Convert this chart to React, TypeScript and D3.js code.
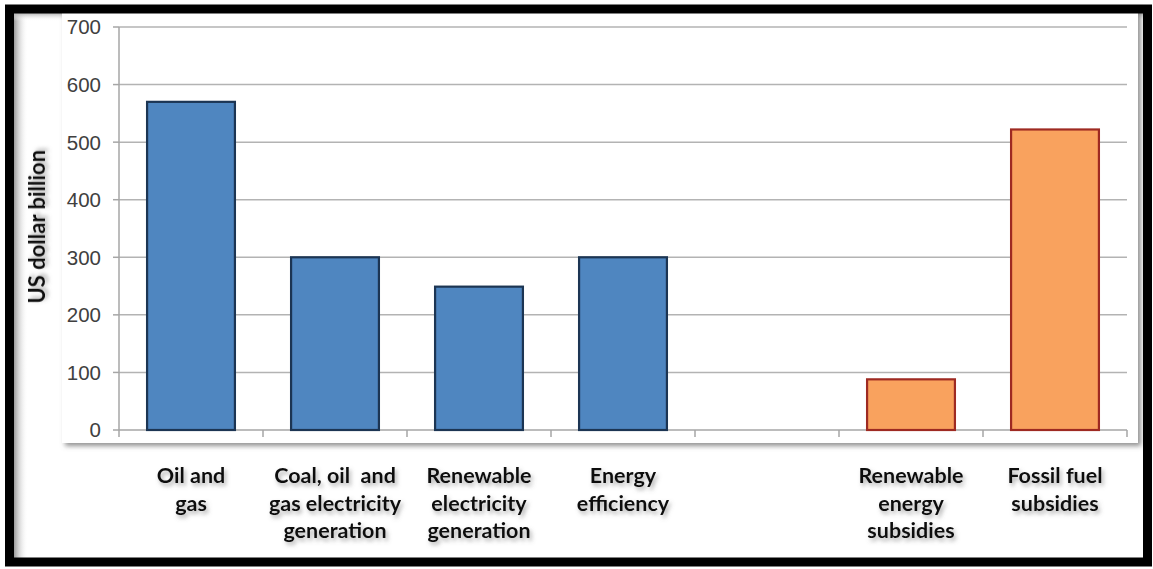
import React from 'react';
import * as d3 from 'd3';

// data
const categories = ['oil', 'coal', 'renew', 'efficiency', 'gap', 'renewSub', 'fossilSub'];
const labelLines = [
  ['Oil and', 'gas'],
  ['Coal, oil  and', 'gas electricity', 'generation'],
  ['Renewable', 'electricity', 'generation'],
  ['Energy', 'efficiency'],
  [],
  ['Renewable', 'energy', 'subsidies'],
  ['Fossil fuel', 'subsidies'],
];
const values = [570, 300, 249, 300, null, 88, 522];
const isSubsidy = [false, false, false, false, false, true, true];
const yTicks = [0, 100, 200, 300, 400, 500, 600, 700];

const W = 1153;
const H = 569;

const App = () => {
  const x = d3.scaleBand<string>().domain(categories).range([119, 1127]).padding(0);
  const y = d3.scaleLinear().domain([0, 700]).range([430, 27]);
  const barW = x.bandwidth() * 0.61;
  const bounds = categories.map(c => x(c) as number).concat([x.range()[1]]);

  return (
    <svg width={W} height={H} style={{ position: 'absolute', left: 0, top: 0, background: '#fff' }}>
      <defs>
        <filter id="txtShadow" x="-20%" y="-30%" width="140%" height="170%">
          <feDropShadow dx="2" dy="3" stdDeviation="2" floodColor="#666" floodOpacity="0.55" />
        </filter>
        <filter id="boxShadow" x="-5%" y="-5%" width="110%" height="110%">
          <feDropShadow dx="3" dy="3" stdDeviation="2.5" floodColor="#777" floodOpacity="0.8" />
        </filter>
        <linearGradient id="leftShade" x1="0" x2="1" y1="0" y2="0">
          <stop offset="0" stopColor="#9a9a9a" />
          <stop offset="1" stopColor="#fff" stopOpacity="0" />
        </linearGradient>
        <linearGradient id="topShade" x1="0" x2="0" y1="0" y2="1">
          <stop offset="0" stopColor="#b0b0b0" />
          <stop offset="1" stopColor="#fff" stopOpacity="0" />
        </linearGradient>
      </defs>

      {/* inner shading along the frame */}
      <rect x={14} y={13} width={14} height={545} fill="url(#leftShade)" />
      <rect x={14} y={13} width={1133} height={8} fill="url(#topShade)" />

      {/* plot-area panel with drop shadow */}
      <rect x={62} y={6} width={1076} height={437} fill="#fff" filter="url(#boxShadow)" />

      {/* gridlines */}
      {yTicks.map(t => (
        <g key={t}>
          {t > 0 && (
            <line x1={119} x2={1127} y1={y(t)} y2={y(t)} stroke="#b3b3b3" strokeWidth={1.5} />
          )}
          <line x1={113} x2={119} y1={y(t)} y2={y(t)} stroke="#a6a6a6" strokeWidth={1.5} />
          <text
            x={101}
            y={y(t)}
            dy="0.36em"
            textAnchor="end"
            fontFamily="'Liberation Sans', Arial, sans-serif"
            fontSize={20.5}
            fill="#404040"
          >
            {t}
          </text>
        </g>
      ))}

      {/* axes */}
      <line x1={119} x2={119} y1={y(700)} y2={y(0)} stroke="#a6a6a6" strokeWidth={1.5} />
      <line x1={119} x2={1127} y1={y(0)} y2={y(0)} stroke="#a6a6a6" strokeWidth={1.5} />
      {bounds.map((b, i) => (
        <line key={i} x1={b} x2={b} y1={y(0)} y2={y(0) + 7} stroke="#a6a6a6" strokeWidth={1.5} />
      ))}

      {/* bars */}
      {categories.map((c, i) => {
        const v = values[i];
        if (v == null) return null;
        const cx = (x(c) as number) + x.bandwidth() / 2;
        return (
          <rect
            key={c}
            x={cx - barW / 2}
            y={y(v)}
            width={barW}
            height={y(0) - y(v)}
            fill={isSubsidy[i] ? '#f9a25e' : '#4f86c0'}
            stroke={isSubsidy[i] ? '#9e2a22' : '#1c3553'}
            strokeWidth={2.2}
          />
        );
      })}

      {/* category labels */}
      {categories.map((c, i) => {
        const cx = (x(c) as number) + x.bandwidth() / 2;
        return (
          <text
            key={c}
            x={cx}
            y={483}
            textAnchor="middle"
            fontFamily="Lato, 'Open Sans', sans-serif"
            fontWeight={700}
            fontSize={21.5}
            fill="#111"
            filter="url(#txtShadow)"
          >
            {labelLines[i].map((l, j) => (
              <tspan key={j} x={cx} dy={j === 0 ? 0 : 27.5} style={{ whiteSpace: 'pre' }}>
                {l}
              </tspan>
            ))}
          </text>
        );
      })}

      {/* y title */}
      <text
        transform={`translate(45,${y(353)}) rotate(-90)`}
        textAnchor="middle"
        fontFamily="Lato, 'Open Sans', sans-serif"
        fontWeight={700}
        fontSize={22}
        fill="#111"
        filter="url(#txtShadow)"
      >
        US dollar billion
      </text>

      {/* outer black frame */}
      <rect x={9.5} y={9} width={1138} height={553} fill="none" stroke="#000" strokeWidth={9} />
    </svg>
  );
};

export default App;
